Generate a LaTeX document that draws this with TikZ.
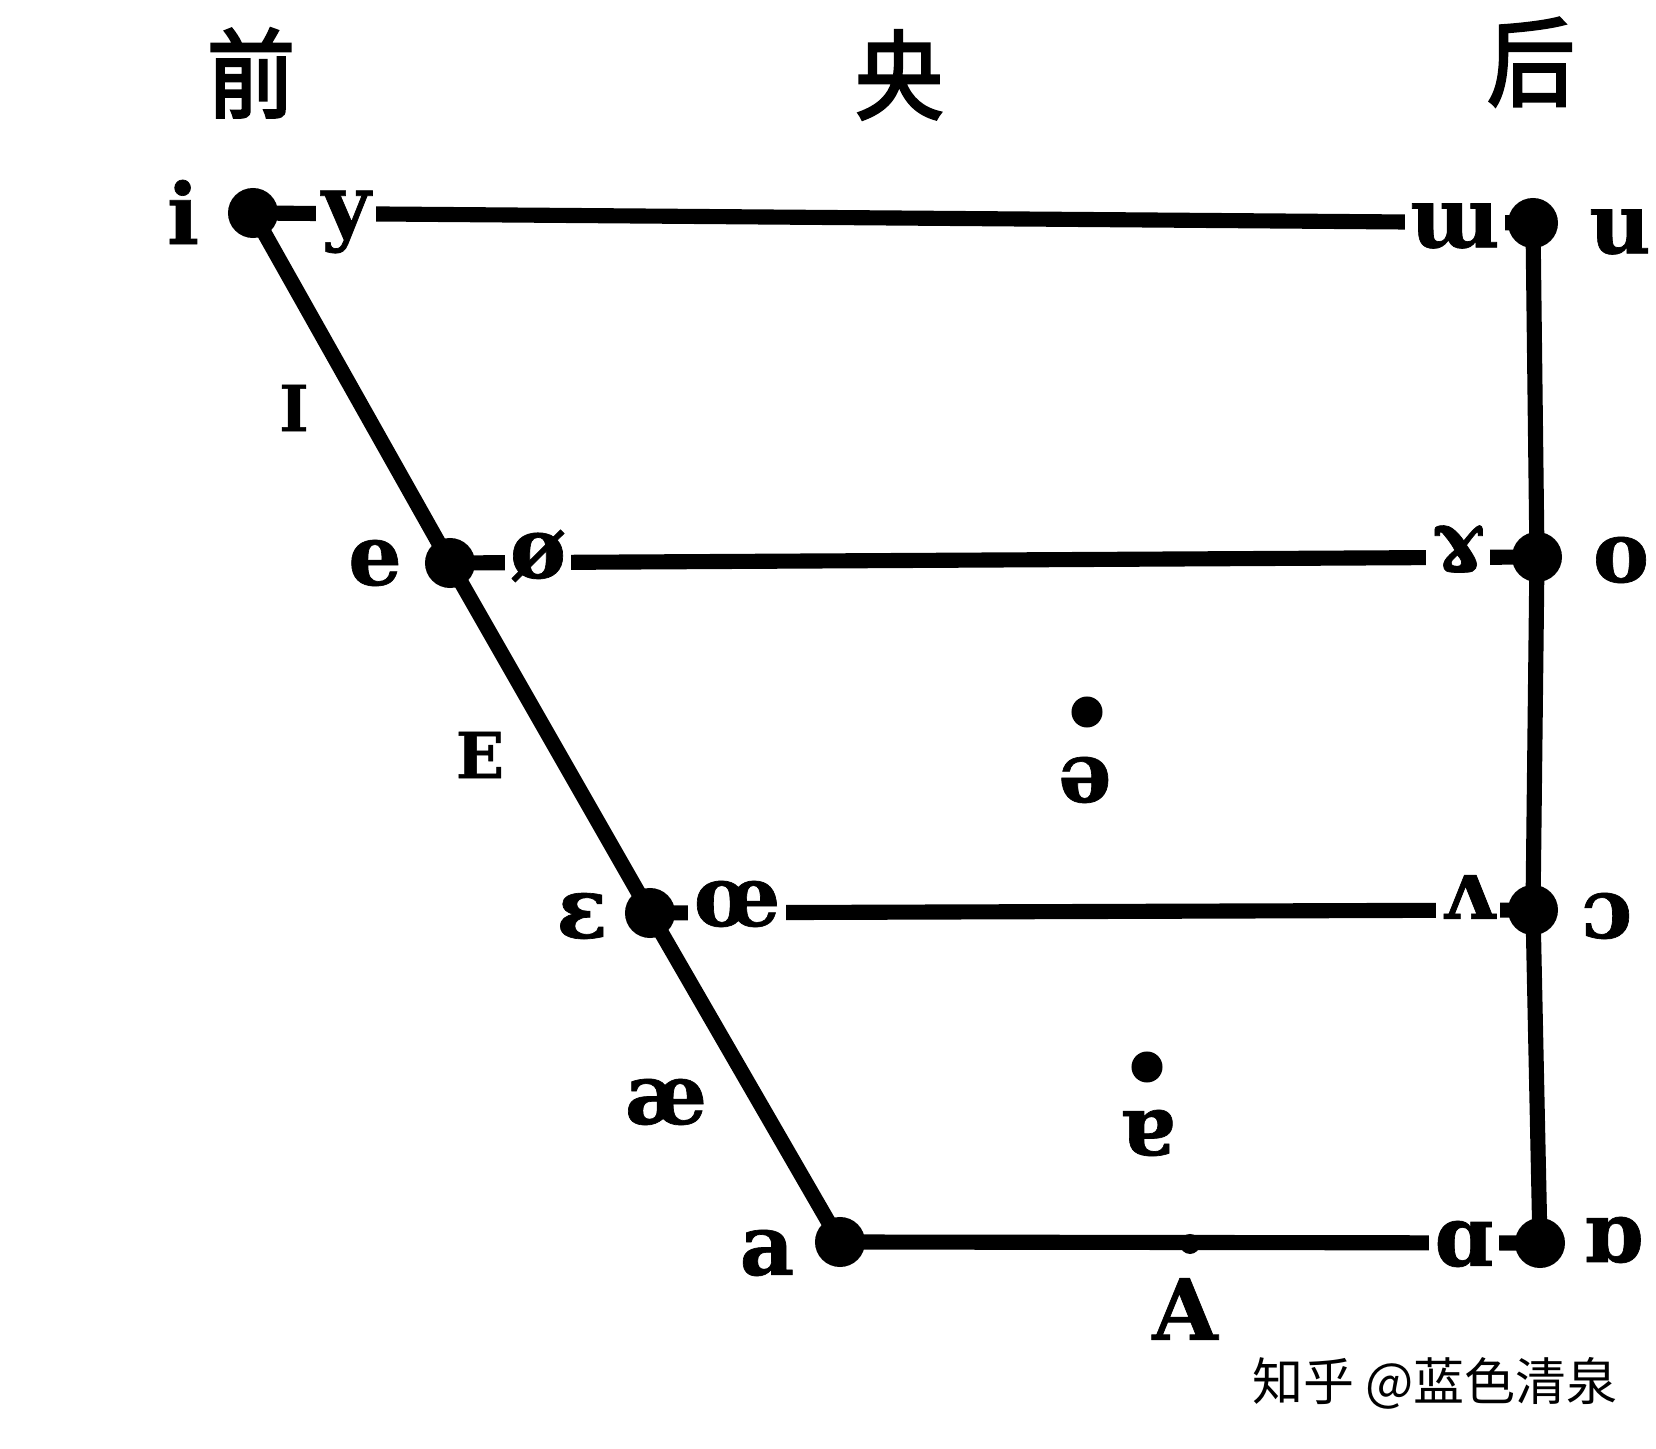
\documentclass[tikz,border=0pt]{standalone}
\usepackage{fontspec}
\newfontfamily\ipafont{DejaVu Serif}[FakeBold=0.8]
\newfontfamily\cjkhead{Noto Sans CJK SC}[FakeBold=3]
\newfontfamily\cjkmark{Noto Sans CJK SC}
\begin{document}
\begin{tikzpicture}[x=0.01cm,y=-0.01cm,
  vdot/.style={circle,fill=black,inner sep=0pt,minimum size=0.5cm},
  sdot/.style={circle,fill=black,inner sep=0pt,minimum size=0.31cm},
  bump/.style={circle,fill=black,inner sep=0pt,minimum size=0.2cm},
  lbl/.style={font=\ipafont\bfseries\fontsize{24}{28}\selectfont,inner sep=1.5pt,fill=white},
  scap/.style={font=\ipafont\bfseries\fontsize{18}{20}\selectfont,inner sep=1pt},
  head/.style={font=\cjkhead\fontsize{25}{28}\selectfont,inner sep=0pt,yscale=1.1},
  vline/.style={line width=4.3pt,line cap=round}]
\useasboundingbox[fill=white] (0,0) rectangle (1656,1449);
% vowel points
\node[vdot] (pi) at (253,213) {};
\node[vdot] (pu) at (1533,223) {};
\node[vdot] (pe) at (450,563) {};
\node[vdot] (po) at (1537,557) {};
\node[vdot] (peps) at (650,913) {};
\node[vdot] (popen) at (1533,910) {};
\node[vdot] (pa) at (840,1242) {};
\node[vdot] (pback) at (1540,1243) {};
% lines
\draw[vline] (pi.center) -- (pe.center) -- (peps.center) -- (pa.center);
\draw[vline] (pu.center) -- (po.center) -- (popen.center) -- (pback.center);
\draw[vline] (pi.center) -- (pu.center);
\draw[vline] (pe.center) -- (po.center);
\draw[vline] (peps.center) -- (popen.center);
\draw[vline] (pa.center) -- (pback.center);
\node[bump] (mid) at (1190,1244) {};
% labels
\node[lbl] (li) at (183,212) {i};
\node[lbl] (ly) at (346,222) {y};
\node[lbl] (lw) at (1455,226) {ɯ};
\node[lbl] (lu) at (1620,232) {u};
\node[lbl] (le) at (375,563) {e};
\node[lbl] (loe) at (538,556) {ø};
\node[lbl] (lram) at (1458,549) {ɤ};
\node[lbl] (lo) at (1621,560) {o};
\node[lbl] (leps) at (582,916) {ɛ};
\node[lbl] (loel) at (737,904) {œ};
\node[lbl] (lv) at (1468,897) {ʌ};
\node[lbl] (lc) at (1607,916) {ɔ};
\node[lbl] (la) at (767,1253) {a};
\node[lbl] (lalpha) at (1464,1244) {ɑ};
\node[lbl] (lturn) at (1613,1240) {ɒ};
\node[lbl] (lA) at (1185,1309) {A};
\node[scap] (lI) at (294,408) {I};
\node[scap] (lE) at (480,755) {E};
\node[lbl] (lae) at (666,1102) {æ};
\node[lbl] (lschwa) at (1085,780) {ə};
\node[sdot] (dschwa) at (1087,712) {};
\node[lbl] (lturna) at (1147,1133) {ɐ};
\node[sdot] (dturna) at (1147,1067) {};
% headers
\node[head] (hfront) at (251,73) {前};
\node[head] (hcent) at (899,75) {央};
\node[head] (hback) at (1531,62) {后};
% watermark
\node[font=\cjkmark\fontsize{14.5}{16}\selectfont,inner sep=0pt] (wm) at (1435,1383) {知乎 @蓝色清泉};
\end{tikzpicture}
\end{document}
